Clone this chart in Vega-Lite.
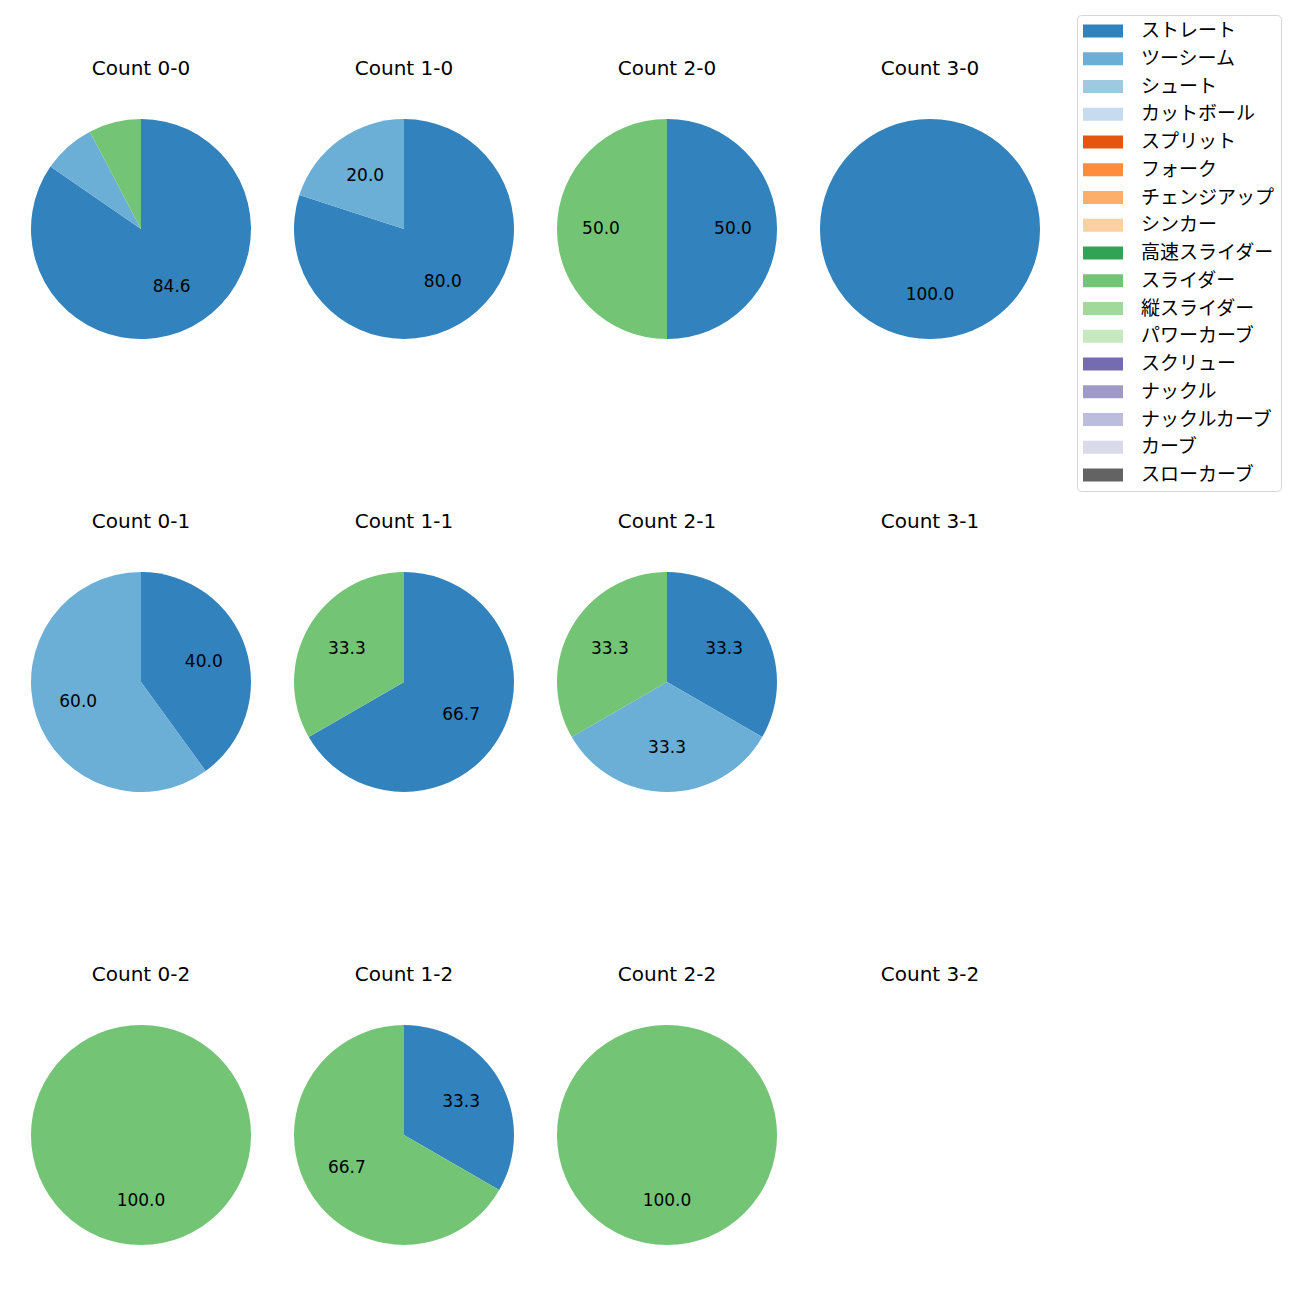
{
  "$schema": "https://vega.github.io/schema/vega-lite/v6.json",
  "background": "white",
  "padding": {"left": 31, "top": 14, "right": 5, "bottom": 5},
  "data": {"values": [
    {"count": "Count 0-0", "pitch": "ストレート", "value": 84.6},
    {"count": "Count 0-0", "pitch": "ツーシーム", "value": 7.7},
    {"count": "Count 0-0", "pitch": "スライダー", "value": 7.7},
    {"count": "Count 1-0", "pitch": "ストレート", "value": 80},
    {"count": "Count 1-0", "pitch": "ツーシーム", "value": 20},
    {"count": "Count 2-0", "pitch": "ストレート", "value": 50},
    {"count": "Count 2-0", "pitch": "スライダー", "value": 50},
    {"count": "Count 3-0", "pitch": "ストレート", "value": 100},
    {"count": "Count 0-1", "pitch": "ストレート", "value": 40},
    {"count": "Count 0-1", "pitch": "ツーシーム", "value": 60},
    {"count": "Count 1-1", "pitch": "ストレート", "value": 66.67},
    {"count": "Count 1-1", "pitch": "スライダー", "value": 33.33},
    {"count": "Count 2-1", "pitch": "ストレート", "value": 33.33},
    {"count": "Count 2-1", "pitch": "ツーシーム", "value": 33.33},
    {"count": "Count 2-1", "pitch": "スライダー", "value": 33.34},
    {"count": "Count 3-1", "pitch": "ストレート", "value": 0},
    {"count": "Count 0-2", "pitch": "スライダー", "value": 100},
    {"count": "Count 1-2", "pitch": "ストレート", "value": 33.33},
    {"count": "Count 1-2", "pitch": "スライダー", "value": 66.67},
    {"count": "Count 2-2", "pitch": "スライダー", "value": 100},
    {"count": "Count 3-2", "pitch": "ストレート", "value": 0}
  ]},
  "transform": [
    {"calculate": "indexof(['ストレート','ツーシーム','シュート','カットボール','スプリット','フォーク','チェンジアップ','シンカー','高速スライダー','スライダー','縦スライダー','パワーカーブ','スクリュー','ナックル','ナックルカーブ','カーブ','スローカーブ'], datum.pitch)", "as": "ord"}
  ],
  "facet": {
    "field": "count", "type": "nominal",
    "sort": ["Count 0-0","Count 1-0","Count 2-0","Count 3-0","Count 0-1","Count 1-1","Count 2-1","Count 3-1","Count 0-2","Count 1-2","Count 2-2","Count 3-2"],
    "header": {"title": null, "labelFontSize": 20, "labelFont": "DejaVu Sans", "labelColor": "black", "labelPadding": 40}
  },
  "columns": 4,
  "spacing": {"column": 43, "row": 173},
  "spec": {
    "width": 220,
    "height": 220,
    "encoding": {
      "theta": {"field": "value", "type": "quantitative", "stack": true, "scale": {"domain": [0, 100]}},
      "order": {"field": "ord", "type": "quantitative"}
    },
    "layer": [
      {
        "mark": {"type": "arc", "outerRadius": 110},
        "encoding": {
          "color": {
            "field": "pitch", "type": "nominal",
            "scale": {
              "domain": ["ストレート","ツーシーム","シュート","カットボール","スプリット","フォーク","チェンジアップ","シンカー","高速スライダー","スライダー","縦スライダー","パワーカーブ","スクリュー","ナックル","ナックルカーブ","カーブ","スローカーブ"],
              "range": ["#3182bd","#6baed6","#9ecae1","#c6dbef","#e6550d","#fd8d3c","#fdae6b","#fdd0a2","#31a354","#74c476","#a1d99b","#c7e9c0","#756bb1","#9e9ac8","#bcbddc","#dadaeb","#636363"]
            },
            "legend": {
              "title": null, "orient": "none", "legendX": 1046, "legendY": -104,
              "symbolType": "M-2,-0.66H2V0.66H-2Z", "symbolSize": 400, "symbolStrokeWidth": 0, "symbolOffset": 10,
              "labelFont": "Noto Sans CJK JP", "labelFontSize": 19, "labelColor": "black", "labelOffset": 28,
              "strokeColor": "#d6d6d6", "fillColor": "white", "cornerRadius": 4, "padding": 6, "rowPadding": 7.75,
              "symbolOpacity": 1
            }
          }
        }
      },
      {
        "mark": {"type": "text", "radius": 66, "fontSize": 17, "font": "DejaVu Sans", "color": "black"},
        "encoding": {
          "detail": {"field": "pitch", "type": "nominal"},
          "text": {"condition": {"test": "datum.value < 10", "value": ""}, "field": "value", "type": "quantitative", "format": ".1f"}
        }
      }
    ]
  },
  "config": {"view": {"stroke": null}}
}
